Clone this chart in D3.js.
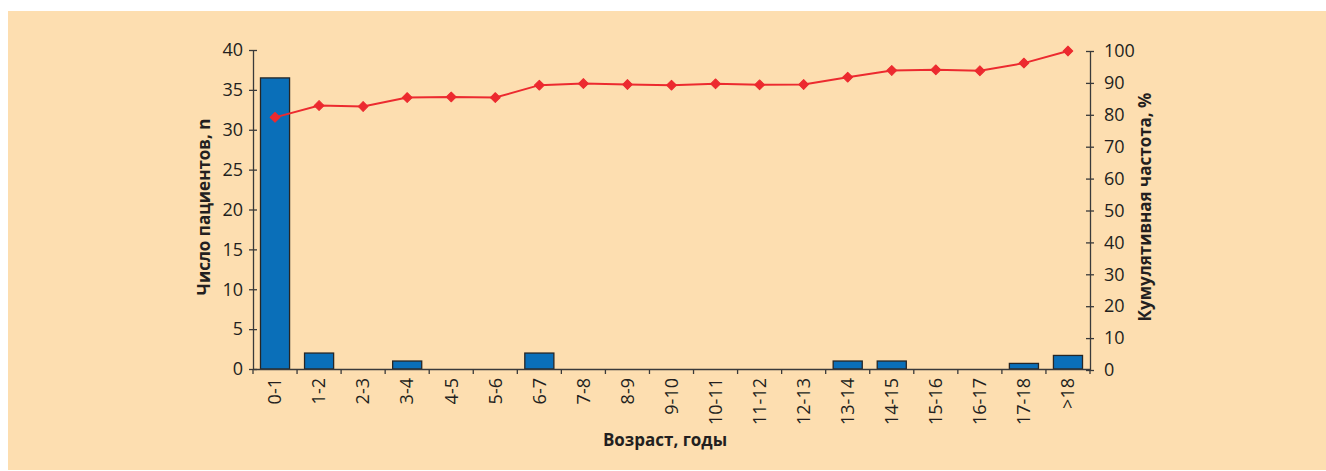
<!DOCTYPE html>
<html>
<head>
<meta charset="utf-8">
<script src="https://cdn.jsdelivr.net/npm/d3@7"></script>
<style>
  body { margin: 0; background: #fff; }
  text { font-family: "Open Sans", sans-serif; fill: #231f20; }
</style>
</head>
<body>
<svg class="graphique"></svg>
<script>
// données
const ageGroups = ["0-1","1-2","2-3","3-4","4-5","5-6","6-7","7-8","8-9","9-10","10-11","11-12","12-13","13-14","14-15","15-16","16-17","17-18",">18"]
const patients = [36.5, 2, 0, 1, 0, 0, 2, 0, 0, 0, 0, 0, 0, 1, 1, 0, 0, 0.7, 1.7]
const cumulative = [79.2, 82.9, 82.6, 85.4, 85.6, 85.4, 89.3, 89.8, 89.5, 89.3, 89.7, 89.4, 89.5, 91.8, 93.9, 94.1, 93.8, 96.2, 100]
const leftTicks = [0, 5, 10, 15, 20, 25, 30, 35, 40]
const rightTicks = [0, 10, 20, 30, 40, 50, 60, 70, 80, 90, 100]

const width = 1326, height = 471
const axisColor = "#3a3a3a"

const svg = d3.select(".graphique")
    .attr("width", width)
    .attr("height", height)

// fond
svg.append("rect")
    .attr("x", 8).attr("y", 11)
    .attr("width", width - 8).attr("height", 459)
    .attr("fill", "#fddeb0")

const x = d3.scaleBand()
    .domain(ageGroups)
    .range([253, 1090])
    .paddingInner(0.34)
    .paddingOuter(0.17)

const yLeft = d3.scaleLinear().domain([0, 40]).range([369, 50])
const yRight = d3.scaleLinear().domain([0, 100]).range([370, 51])

// barres
svg.append("g")
    .selectAll("rect")
    .data(patients)
    .join("rect")
    .attr("x", (d, i) => x(ageGroups[i]))
    .attr("y", d => yLeft(d))
    .attr("width", x.bandwidth())
    .attr("height", d => yLeft(0) - yLeft(d))
    .attr("fill", "#0a6fb9")
    .attr("stroke", "#262626")
    .attr("stroke-width", 1.3)

// axe gauche
const gLeft = svg.append("g")
    .attr("transform", "translate(253,0)")
    .call(d3.axisLeft(yLeft).tickValues(leftTicks).tickSizeInner(4).tickSizeOuter(0).tickPadding(6))
gLeft.selectAll(".tick line").attr("x2", 4).attr("x1", -4)
gLeft.selectAll(".tick text").attr("x", -10)

// axe droit
const gRight = svg.append("g")
    .attr("transform", "translate(1090,0)")
    .call(d3.axisRight(yRight).tickValues(rightTicks).tickSizeInner(4).tickSizeOuter(0))
gRight.selectAll(".tick line").attr("x1", -4).attr("x2", 4)
gRight.selectAll(".tick text").attr("x", 14)

// axe x
const gX = svg.append("g")
    .attr("transform", "translate(0,369)")
    .call(d3.axisBottom(x).tickSize(0).tickSizeOuter(0))
gX.selectAll(".tick text")
    .attr("transform", "rotate(-90)")
    .attr("x", -9).attr("y", 0).attr("dy", "0.35em")
    .style("text-anchor", "end")
// graduations entre les catégories
gX.selectAll(".sep")
    .data(d3.range(ageGroups.length + 1))
    .join("line")
    .attr("class", "sep")
    .attr("x1", i => x.range()[0] + i * x.step())
    .attr("x2", i => x.range()[0] + i * x.step())
    .attr("y1", 0).attr("y2", 5)

svg.selectAll(".domain, .tick line, .sep")
    .attr("stroke", axisColor)
    .attr("stroke-width", 1.3)
svg.selectAll(".tick text")
    .attr("font-size", 18)
    .attr("font-family", "Open Sans, sans-serif")
    .attr("fill", "#231f20")

// courbe cumulative
const lineGen = d3.line()
    .x((d, i) => x(ageGroups[i]) + x.bandwidth() / 2)
    .y(d => yRight(d))

svg.append("path")
    .datum(cumulative)
    .attr("d", lineGen)
    .attr("fill", "none")
    .attr("stroke", "#ec2a2f")
    .attr("stroke-width", 2)

// losanges (carré tourné de 45°)
svg.append("g")
    .selectAll("path")
    .data(cumulative)
    .join("path")
    .attr("d", d3.symbol(d3.symbolSquare, 48))
    .attr("transform", (d, i) => "translate(" + (x(ageGroups[i]) + x.bandwidth() / 2) + "," + yRight(d) + ") rotate(45)")
    .attr("fill", "#ec2a2f")
    .attr("stroke", "#ec2a2f")
    .attr("stroke-width", 1)
    .attr("stroke-linejoin", "round")

// titres
svg.append("text")
    .attr("transform", "translate(210,207) rotate(-90)")
    .attr("text-anchor", "middle")
    .attr("font-size", 17).attr("font-weight", "bold")
    .text("Число пациентов, n")

svg.append("text")
    .attr("transform", "translate(1151,207) rotate(-90)")
    .attr("text-anchor", "middle")
    .attr("font-size", 17).attr("font-weight", "bold")
    .text("Кумулятивная частота, %")

svg.append("text")
    .attr("x", 665).attr("y", 446)
    .attr("text-anchor", "middle")
    .attr("font-size", 17).attr("font-weight", "bold")
    .text("Возраст, годы")
</script>
</body>
</html>
